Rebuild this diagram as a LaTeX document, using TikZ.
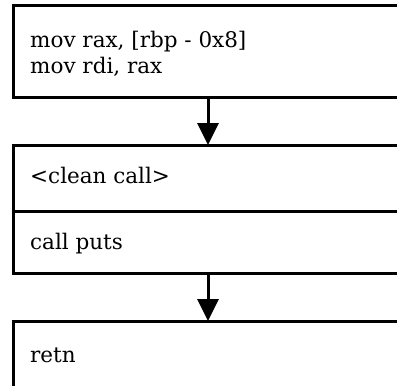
\documentclass[tikz,border=0pt]{standalone}
\usepackage{fontspec}
\setmainfont{DejaVu Serif}
\usetikzlibrary{arrows.meta}
\tikzset{
  blk/.style={draw=black, line width=3pt, fill=white},
  lbl/.style={anchor=base west, inner sep=0pt, font=\fontsize{21.5}{26}\selectfont},
  flow/.style={draw=black, line width=3pt, -{Triangle[width=21pt,length=22pt]}}
}
\begin{document}
\begin{tikzpicture}[x=1pt,y=-1pt]
\useasboundingbox (0,0) rectangle (397,386);
\clip (0,0) rectangle (397,386);
\fill[white] (0,0) rectangle (397,386);
\draw[blk] (13,5) rectangle (420,97);
\draw[blk] (13,145) rectangle (420,273);
\draw[black, line width=3pt] (13,211) -- (420,211);
\draw[blk] (13,321) rectangle (420,387.2);
\node[lbl] (t1) at (30,47) {mov rax, [rbp - 0x8]};
\node[lbl] (t2) at (30,73) {mov rdi, rax};
\node[lbl] (t3) at (30,183) {<clean call>};
\node[lbl] (t4) at (30,249) {call puts};
\node[lbl] (t5) at (30,362) {retn};
\coordinate (a1) at (208,97);
\coordinate (b1) at (208,145);
\coordinate (a2) at (208,273);
\coordinate (b2) at (208,321);
\draw[flow] (a1) -- (b1);
\draw[flow] (a2) -- (b2);
\end{tikzpicture}
\end{document}
